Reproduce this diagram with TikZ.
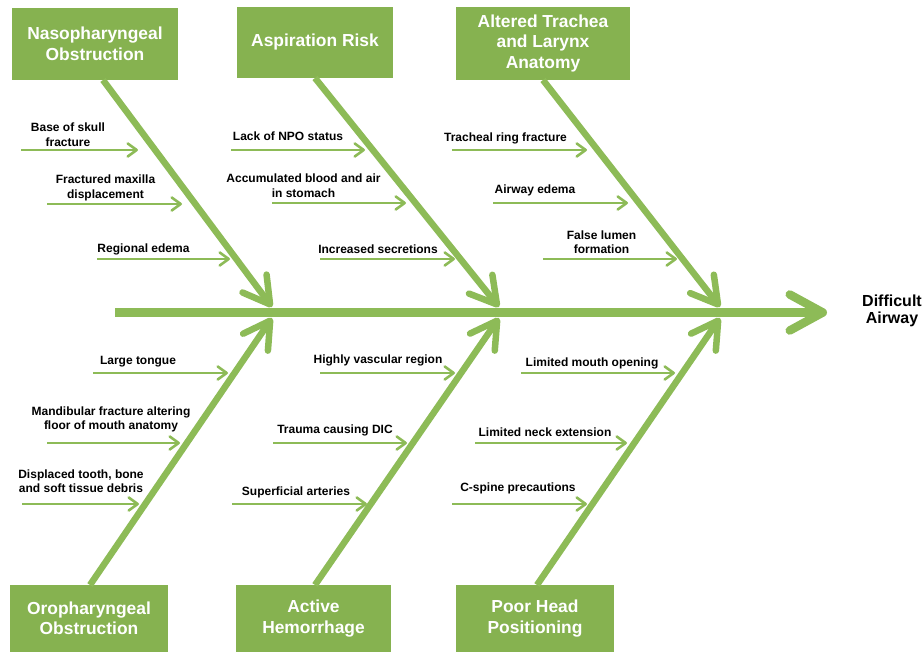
\documentclass[tikz,border=0pt]{standalone}
\usepackage{fontspec}
\setmainfont{Liberation Sans}
\usetikzlibrary{arrows.meta}
\definecolor{boxgreen}{RGB}{134,178,80}
\definecolor{linegreen}{RGB}{141,187,87}
\tikzset{
  cat/.style={fill=boxgreen, text=white, font=\fontsize{17.4}{20.5}\selectfont\bfseries, align=center, inner sep=0pt},
  lbl/.style={font=\fontsize{12}{14.5}\selectfont\bfseries, align=center, inner sep=0pt},
  outc/.style={font=\fontsize{16}{17}\selectfont\bfseries, align=center, inner sep=0pt},
  sub/.style={draw=linegreen, line width=2.6pt, -{Straight Barb[length=9pt,width=13pt,round]}},
  bone/.style={draw=linegreen, line width=6.5pt, -{Straight Barb[length=26pt,width=30pt,round]}},
  spine/.style={draw=linegreen, line width=8.5pt, -{Straight Barb[length=33pt,width=36pt,round]}},
}
\newcommand\fbarrow[7]{%
  \coordinate (#1a) at (#2,#4);
  \coordinate (#1b) at (#3,#4);
  \draw[sub] (#1a) -- (#1b);
  \node[lbl] (#1t) at (#6,#7) {#5};
}
\begin{document}
\begin{tikzpicture}[x=1pt,y=-1pt]
\useasboundingbox (0,0) rectangle (922,652);

% category boxes
\node[cat, minimum width=166pt, minimum height=72pt] (c1) at (95,44) {Nasopharyngeal\\Obstruction};
\node[cat, minimum width=156pt, minimum height=71pt] (c2) at (315,42.5) {Aspiration Risk};
\node[cat, minimum width=174pt, minimum height=73pt] (c3) at (543,43.5) {Altered Trachea\\and Larynx\\Anatomy};
\node[cat, minimum width=158pt, minimum height=67pt] (c4) at (89,618.5) {Oropharyngeal\\Obstruction};
\node[cat, minimum width=155pt, minimum height=67pt] (c5) at (313.5,618.5) {Active\\Hemorrhage};
\node[cat, minimum width=158pt, minimum height=67pt] (c6) at (535,618.5) {Poor Head\\Positioning};

% outcome
\node[outc] (out) at (892,311) {Difficult\\Airway};

% spine
\coordinate (sps) at (115,312.5);
\coordinate (spe) at (827,312.5);
\draw[spine] (sps) -- (spe);

% bones
\coordinate (b1s) at (103,80);  \coordinate (b1e) at (272,307);
\coordinate (b2s) at (315,78);  \coordinate (b2e) at (499,307);
\coordinate (b3s) at (543,80);  \coordinate (b3e) at (720,307);
\coordinate (b4s) at (90,585);  \coordinate (b4e) at (272,318);
\coordinate (b5s) at (315,585); \coordinate (b5e) at (499,318);
\coordinate (b6s) at (537,585); \coordinate (b6e) at (720,318);
\draw[bone] (b1s) -- (b1e);
\draw[bone] (b2s) -- (b2e);
\draw[bone] (b3s) -- (b3e);
\draw[bone] (b4s) -- (b4e);
\draw[bone] (b5s) -- (b5e);
\draw[bone] (b6s) -- (b6e);

% sub-causes, top
\fbarrow{p1}{21}{138}{150}{Base of skull\\fracture}{68}{134.5}
\fbarrow{p2}{47}{182}{204}{Fractured maxilla\\displacement}{105.5}{188}
\fbarrow{p3}{97}{230}{259}{Regional edema}{143.5}{249}
\fbarrow{p4}{231}{365}{150}{Lack of NPO status}{288}{136}
\fbarrow{p5}{272}{406}{203}{Accumulated blood and air\\in stomach}{303.5}{185.5}
\fbarrow{p6}{320}{455}{259}{Increased secretions}{378}{249}
\fbarrow{p7}{452}{587}{150}{Tracheal ring fracture}{505.5}{138}
\fbarrow{p8}{493}{628}{203}{Airway edema}{535}{190}
\fbarrow{p9}{543}{677}{259}{False lumen\\formation}{601.5}{242}

% sub-causes, bottom
\fbarrow{q1}{93}{228}{373}{Large tongue}{138}{362}
\fbarrow{q2}{47}{180}{443}{Mandibular fracture altering\\floor of mouth anatomy}{111}{419.5}
\fbarrow{q3}{22}{139}{504}{Displaced tooth, bone\\and soft tissue debris}{81}{481}
\fbarrow{q4}{320}{455}{373}{Highly vascular region}{378}{360}
\fbarrow{q5}{273}{407}{443}{Trauma causing DIC}{335}{430}
\fbarrow{q6}{232}{367}{504}{Superficial arteries}{296}{492}
\fbarrow{q7}{521}{675}{373}{Limited mouth opening}{592}{363}
\fbarrow{q8}{475}{627}{443}{Limited neck extension}{545}{432}
\fbarrow{q9}{452}{587}{504}{C-spine precautions}{518}{488}
\end{tikzpicture}
\end{document}
